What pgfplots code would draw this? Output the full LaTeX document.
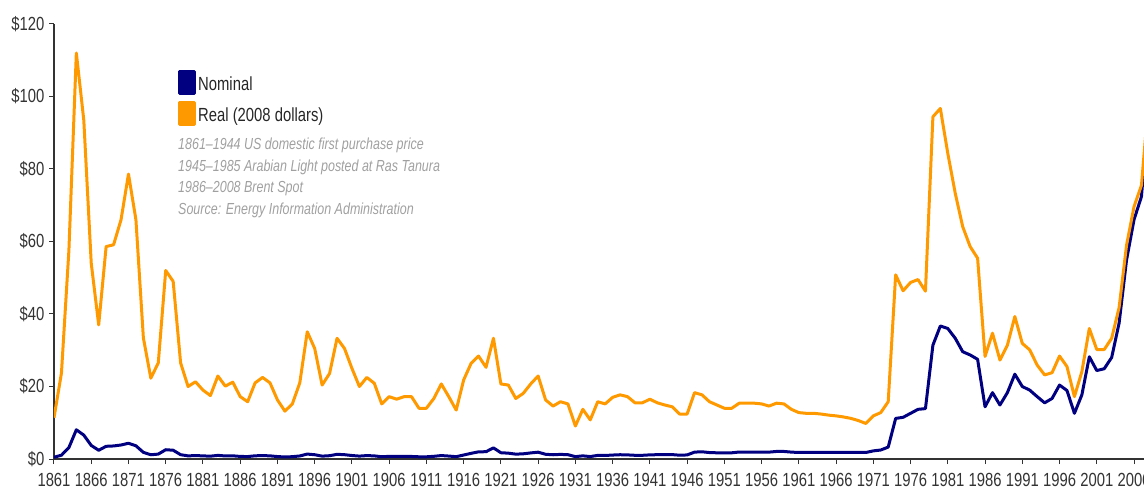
\documentclass[border=0pt]{standalone}
\usepackage{pgfplots}
\pgfplotsset{compat=1.18}
\usepackage{pgfplotstable}
\usepackage{fontspec}
\setmainfont{Liberation Sans}[FakeStretch=0.78]
\definecolor{realc}{HTML}{FF9900}
\definecolor{nomc}{HTML}{000080}
\definecolor{notec}{HTML}{A0A0A0}
\definecolor{axc}{HTML}{333333}

\pgfplotstableread{
year val
1861 11.4
1862 23.7
1863 57.5
1864 112
1865 93.5
1866 54
1867 37
1868 58.6
1869 59.1
1870 66
1871 78.6
1872 66
1873 33.4
1874 22.3
1875 26.5
1876 52
1877 49
1878 26.5
1879 20
1880 21.3
1881 19
1882 17.5
1883 22.9
1884 20.1
1885 21.2
1886 17.2
1887 15.8
1888 21
1889 22.5
1890 21
1891 16.3
1892 13.2
1893 15.2
1894 21
1895 35.1
1896 30.5
1897 20.4
1898 23.6
1899 33.3
1900 30.5
1901 25
1902 20
1903 22.5
1904 20.9
1905 15.2
1906 17.2
1907 16.5
1908 17.2
1909 17.2
1910 14
1911 14
1912 16.7
1913 20.7
1914 17.2
1915 13.5
1916 21.8
1917 26.4
1918 28.4
1919 25.3
1920 33.3
1921 20.7
1922 20.4
1923 16.7
1924 18.1
1925 20.7
1926 22.9
1927 16.3
1928 14.6
1929 15.8
1930 15.2
1931 9.1
1932 13.7
1933 10.8
1934 15.8
1935 15.2
1936 17
1937 17.7
1938 17.2
1939 15.5
1940 15.5
1941 16.5
1942 15.5
1943 14.9
1944 14.4
1945 12.4
1946 12.4
1947 18.3
1948 17.7
1949 15.8
1950 14.9
1951 14
1952 14
1953 15.4
1954 15.4
1955 15.4
1956 15.2
1957 14.6
1958 15.4
1959 15.2
1960 13.7
1961 12.8
1962 12.6
1963 12.6
1964 12.4
1965 12.1
1966 11.9
1967 11.6
1968 11.2
1969 10.6
1970 9.8
1971 11.9
1972 12.8
1973 15.8
1974 50.8
1975 46.4
1976 48.7
1977 49.5
1978 46.3
1979 94.4
1980 96.7
1981 84.3
1982 73.3
1983 64.1
1984 58.6
1985 55.4
1986 28.3
1987 34.7
1988 27.3
1989 31.4
1990 39.3
1991 31.9
1992 30.1
1993 25.9
1994 23.2
1995 23.8
1996 28.4
1997 25.5
1998 17.2
1999 24.1
2000 36
2001 30.2
2002 30.2
2003 33.3
2004 41.8
2005 59
2006 69.6
2007 75.5
2008 100
}\realdata

\pgfplotstableread{
year val
1861 0.49
1862 1.05
1863 3.15
1864 8.06
1865 6.59
1866 3.74
1867 2.41
1868 3.5
1869 3.6
1870 3.86
1871 4.34
1872 3.64
1873 1.83
1874 1.17
1875 1.35
1876 2.56
1877 2.42
1878 1.19
1879 0.86
1880 0.95
1881 0.86
1882 0.78
1883 1.00
1884 0.84
1885 0.88
1886 0.71
1887 0.67
1888 0.88
1889 0.94
1890 0.87
1891 0.67
1892 0.56
1893 0.64
1894 0.84
1895 1.36
1896 1.18
1897 0.79
1898 0.91
1899 1.29
1900 1.19
1901 0.96
1902 0.80
1903 0.94
1904 0.86
1905 0.62
1906 0.73
1907 0.72
1908 0.72
1909 0.70
1910 0.61
1911 0.61
1912 0.74
1913 0.95
1914 0.81
1915 0.64
1916 1.10
1917 1.56
1918 1.98
1919 2.01
1920 3.07
1921 1.73
1922 1.61
1923 1.34
1924 1.43
1925 1.68
1926 1.88
1927 1.30
1928 1.17
1929 1.27
1930 1.19
1931 0.65
1932 0.87
1933 0.67
1934 1.00
1935 0.97
1936 1.09
1937 1.18
1938 1.13
1939 1.02
1940 1.02
1941 1.14
1942 1.19
1943 1.20
1944 1.21
1945 1.05
1946 1.12
1947 1.90
1948 1.99
1949 1.78
1950 1.71
1951 1.71
1952 1.71
1953 1.93
1954 1.93
1955 1.93
1956 1.93
1957 1.90
1958 2.08
1959 2.08
1960 1.90
1961 1.80
1962 1.80
1963 1.80
1964 1.80
1965 1.80
1966 1.80
1967 1.80
1968 1.80
1969 1.80
1970 1.80
1971 2.24
1972 2.48
1973 3.29
1974 11.2
1975 11.5
1976 12.6
1977 13.7
1978 13.9
1979 31.4
1980 36.7
1981 36.0
1982 33.3
1983 29.6
1984 28.7
1985 27.5
1986 14.4
1987 18.3
1988 14.9
1989 18.3
1990 23.4
1991 20.0
1992 19.0
1993 17.2
1994 15.5
1995 16.7
1996 20.4
1997 18.9
1998 12.6
1999 17.7
2000 28.2
2001 24.4
2002 24.9
2003 28.0
2004 37.5
2005 54.9
2006 66.0
2007 72.4
2008 97.3
}\nomdata

\begin{document}
\begin{tikzpicture}
\begin{axis}[
  name=ax,
  scale only axis, width=1094.9pt, height=435pt,
  xmin=1861, xmax=2008, ymin=0, ymax=120,
  axis x line*=bottom, axis y line*=left,
  axis line style={axc, line width=1.2pt, -},
  xtick={1861,1866,...,2006},
  ytick={0,20,...,120},
  yticklabels={\$0,\$20,\$40,\$60,\$80,\$100,\$120},
  /pgf/number format/1000 sep={},
  /pgf/number format/assume math mode=true,
  tick align=outside, major tick length=5pt,
  tick style={axc, line width=1pt},
  tick label style={font=\fontsize{19}{19}\selectfont, text=axc},
  xticklabel style={inner sep=1pt, yshift=-8pt},
  yticklabel style={xshift=-1pt},
  legend style={at={(axis cs:1877.65,107.5)}, anchor=north west,
    draw=none, fill=none, inner sep=0pt, row sep=6pt,
    font=\fontsize{19}{19}\selectfont, text=black!85,
    /tikz/every even column/.append style={column sep=3pt}},
  legend cell align=left,
  legend image code/.code={\fill[#1] (0pt,-9pt) rectangle (15pt,13pt);},
]
\addplot[nomc, line width=3pt, line join=round, mark=none] table[x=year,y=val] {\nomdata};
\addlegendentry{Nominal}
\addplot[realc, line width=3pt, line join=round, mark=none] table[x=year,y=val] {\realdata};
\addlegendentry{Real (2008 dollars)}
\node[anchor=north west, align=left, text=notec, inner sep=0pt,
  font=\fontsize{16}{21.5}\selectfont\itshape] at (axis cs:1877.65,88.5)
  {1861--1944 US domestic first purchase price\\
   1945--1985 Arabian Light posted at Ras Tanura\\
   1986--2008 Brent Spot\\
   Source: Energy Information Administration};
\end{axis}
\pgfresetboundingbox
\path ([shift={(-54pt,-29pt)}]ax.south west) rectangle ([shift={(1090pt,459pt)}]ax.south west);
\end{tikzpicture}
\end{document}
